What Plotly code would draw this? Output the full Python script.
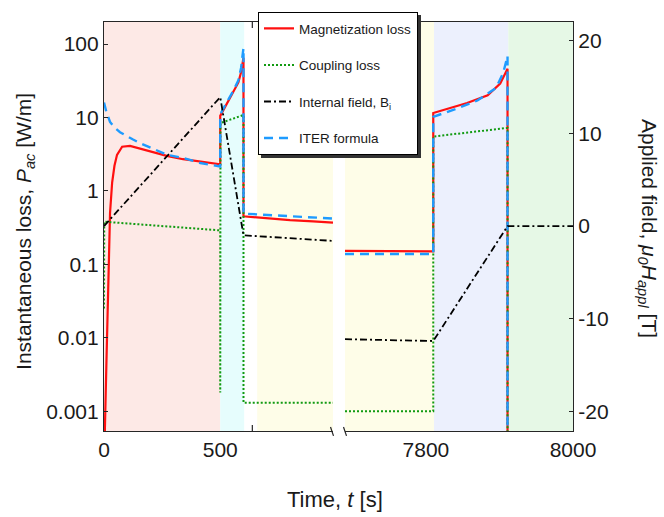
import plotly.graph_objects as go

# ---------------- data ----------------
# left time segment (0 ... ~985 s)
mag_left_t = [0, 4, 10, 15, 20, 26, 35, 45, 56, 78, 112, 150, 200, 270, 340, 414, 500,
              500, 530, 556, 578, 590, 596, 600, 600, 700, 800, 900, 985]
mag_left_v = [1e-5, 0.0006, 0.004, 0.02, 0.1, 0.5, 1.3, 2.2, 3.1, 4.0, 4.1, 3.8, 3.4, 3.0, 2.7, 2.5, 2.3,
              10.5, 16, 22, 30, 42, 55, 65, 0.45, 0.42, 0.40, 0.385, 0.37]

cpl_left_t = [0, 1, 500, 500, 501, 600, 600, 985]
cpl_left_v = [0.025, 0.38, 0.29, 0.0018, 8.4, 10.8, 0.0013, 0.0013]

fld_left_t = [0, 500, 600, 985]
fld_left_v = [0, 13.9, -1.0, -1.6]

iter_left_t = [0, 10, 26, 45, 69, 100, 125, 160, 198, 272, 341, 414, 500,
               500, 530, 556, 578, 590, 596, 600, 600, 985]
iter_left_v = [16, 12, 8.7, 7.3, 6.3, 5.5, 5.0, 4.4, 3.9, 3.1, 2.8, 2.4, 2.15,
               11, 16.5, 23, 32, 48, 70, 88, 0.49, 0.42]

# right time segment (~7690 ... 8000 s)
mag_right_t = [7690, 7810, 7810, 7856, 7884, 7901, 7908, 7911, 7911]
mag_right_v = [0.152, 0.15, 11.5, 15.7, 20, 29, 40, 46, 1e-5]

cpl_right_t = [7690, 7810, 7810, 7911, 7911]
cpl_right_v = [0.001, 0.001, 5.5, 7.2, 1e-5]

fld_right_t = [7690, 7810, 7911, 8000]
fld_right_v = [-12.2, -12.4, 0, 0]

iter_right_t = [7690, 7810, 7810, 7840, 7870, 7895, 7905, 7911, 7911]
iter_right_v = [0.138, 0.138, 10.2, 13, 17, 25, 40, 69, 1e-5]

# background phases: (start, end, colour)
phases_left = [(0, 500, "#FDE9E6"), (500, 603, "#E6FDFD"), (659, 985, "#FEFDE8")]
phases_right = [(7690, 7811, "#FEFDE8"), (7811, 7912, "#ECF0FD"), (7912, 8000, "#E6F8E6")]

x_left_ticks = [0, 500]
x_right_ticks = [7800, 8000]
y_left_ticks = [0.001, 0.01, 0.1, 1, 10, 100]
y_left_text = ["0.001", "0.01", "0.1", "1", "10", "100"]
y_right_ticks = [-20, -10, 0, 10, 20]
y_right_text = ["-20", "-10", "0", "10", "20"]

# ---------------- geometry helpers ----------------
W, H = 664, 517
L, R, T, B = 104, 573, 16, 431


def px(x):
    return (x - L) / (R - L)


def py(y):
    return (B - y) / (B - T)


FONT = "Liberation Sans, Arial, sans-serif"
RED, GREEN, BLACK, BLUE = "#FF1010", "#119A11", "#000000", "#1E9BFF"

fig = go.Figure()

series = [
    ("Magnetization loss", mag_left_t, mag_left_v, mag_right_t, mag_right_v, "y",
     dict(color=RED, width=2.2, dash="solid")),
    ("Coupling loss", cpl_left_t, cpl_left_v, cpl_right_t, cpl_right_v, "y",
     dict(color=GREEN, width=2, dash="2px,2px")),
    ("Internal field, B<sub>i</sub>", fld_left_t, fld_left_v, fld_right_t, fld_right_v, "y2",
     dict(color=BLACK, width=1.8, dash="7px,3px,2px,3px")),
    ("ITER formula", iter_left_t, iter_left_v, iter_right_t, iter_right_v, "y",
     dict(color=BLUE, width=2.4, dash="9px,6px")),
]

for name, lt, lv, rt, rv, yax, line in series:
    fig.add_trace(go.Scatter(x=lt, y=lv, mode="lines", name=name, line=line,
                             xaxis="x", yaxis=yax, legendgroup=name, showlegend=True))
for name, lt, lv, rt, rv, yax, line in series:
    fig.add_trace(go.Scatter(x=rt, y=rv, mode="lines", name=name, line=line,
                             xaxis="x2", yaxis=yax, legendgroup=name, showlegend=False))

shapes = []
for x0, x1, c in phases_left:
    shapes.append(dict(type="rect", xref="x", yref="paper", x0=x0, x1=x1, y0=0, y1=1,
                       fillcolor=c, line=dict(width=0), layer="below"))
for x0, x1, c in phases_right:
    shapes.append(dict(type="rect", xref="x2", yref="paper", x0=x0, x1=x1, y0=0, y1=1,
                       fillcolor=c, line=dict(width=0), layer="below"))

# visible minor tick in white gap (bottom and top)
for y0, y1 in [(B, B - 6), (T, T + 6)]:
    shapes.append(dict(type="line", xref="x", yref="paper", x0=638, x1=638,
                       y0=py(y0), y1=py(y1), line=dict(color="#262626", width=1.2)))

# axis break marks
for xb in [332, 345]:
    shapes.append(dict(type="line", xref="paper", yref="paper",
                       x0=px(xb - 1.5), x1=px(xb + 1.5), y0=py(427), y1=py(436),
                       line=dict(color="#262626", width=1.2)))

# legend shadow
shapes.append(dict(type="rect", xref="paper", yref="paper",
                   x0=px(261), x1=px(421), y0=py(154), y1=py(9),
                   fillcolor="#333333", line=dict(width=0), layer="above"))

axis_common = dict(showgrid=False, zeroline=False, showline=True, linecolor="#262626",
                   linewidth=1.2, tickfont=dict(family=FONT, size=21, color="#1a1a1a"))

fig.update_layout(
    width=W, height=H,
    margin=dict(l=L, r=W - R, t=T, b=H - B, pad=0),
    paper_bgcolor="white", plot_bgcolor="white",
    font=dict(family=FONT, color="#1a1a1a"),
    xaxis=dict(domain=[0, px(333)], range=[0, 985], tickvals=x_left_ticks,
               ticktext=[str(v) for v in x_left_ticks], ticks="", mirror=True,
               anchor="y", **axis_common),
    xaxis2=dict(domain=[px(345), 1], range=[7690, 8000], tickvals=x_right_ticks,
                ticktext=[str(v) for v in x_right_ticks], ticks="", mirror=True,
                anchor="y", **axis_common),
    yaxis=dict(type="log", range=[-3.27, 2.30], tickvals=y_left_ticks, ticktext=y_left_text,
               ticks="inside", ticklen=4, tickcolor="#262626", side="left", anchor="x",
               **axis_common),
    yaxis2=dict(range=[-22.1, 22.0], tickvals=y_right_ticks, ticktext=y_right_text,
                ticks="inside", ticklen=4,
                tickcolor="#262626", side="right", anchor="x2", overlaying="y",
                **axis_common),
    legend=dict(x=px(258), y=py(6), xanchor="left", yanchor="top",
                bgcolor="white", bordercolor="black", borderwidth=1,
                font=dict(family=FONT, size=13.5, color="#1a1a1a"),
                traceorder="grouped", tracegroupgap=16, itemwidth=30),
    shapes=shapes,
    annotations=[
        dict(text="Time, <i>t</i> [s]", x=px(335), y=py(500), xref="paper", yref="paper",
             xanchor="center", yanchor="middle",
             showarrow=False, font=dict(family=FONT, size=22)),
        dict(text="Instantaneous loss, <i>P</i><sub><i>ac</i></sub> [W/m]", x=px(25), y=py(229),
             xref="paper", yref="paper", xanchor="center", yanchor="middle",
             showarrow=False, textangle=-90, font=dict(family=FONT, size=21)),
        dict(text="Applied field, <i>μ<sub>0</sub>H<sub>appl</sub></i> [T]", x=px(648), y=py(225),
             xref="paper", yref="paper", xanchor="center", yanchor="middle",
             showarrow=False, textangle=90, font=dict(family=FONT, size=21)),
    ],
)

fig.write_html("out.html", config={"displayModeBar": False},
               post_script="document.body.style.margin='0px';")
